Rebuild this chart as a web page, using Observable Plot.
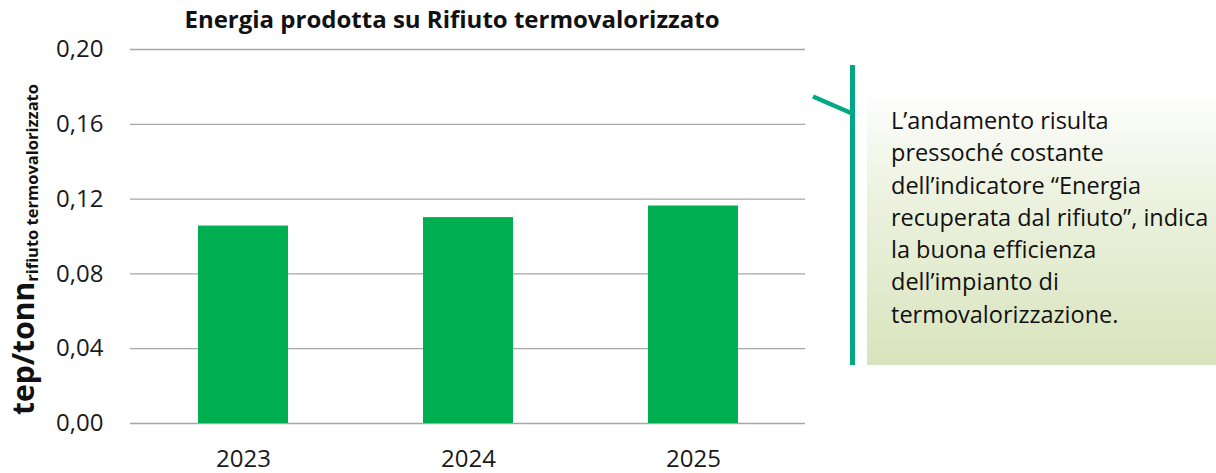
<!DOCTYPE html>
<html>
<head>
<meta charset="utf-8">
<script src="https://cdn.jsdelivr.net/npm/d3@7"></script>
<script src="https://cdn.jsdelivr.net/npm/@observablehq/plot@0.6"></script>
<style>
  html, body { margin: 0; padding: 0; background: #fff; }
  #wrap { position: relative; width: 1216px; height: 473px; overflow: hidden; font-family: "Open Sans", sans-serif; }
  #note {
    position: absolute; left: 867px; top: 88px; width: 349px; height: 277px;
    background: linear-gradient(to bottom, #ffffff 0%, #eef3e2 35%, #d8e4bd 100%);
  }
  #notetext {
    position: absolute; left: 891px; top: 104px; font-size: 23.5px; line-height: 32.3px;
    color: #111; white-space: nowrap; font-family: "Open Sans", sans-serif;
  }
  #callout { position: absolute; left: 0; top: 0; }
</style>
</head>
<body>
<div id="wrap">
  <div id="note"></div>
  <div id="chart"></div>
  <div id="notetext"></div>
  <svg id="callout" width="1216" height="473"></svg>
</div>
<script>
const years = ["2023", "2024", "2025"];
const values = [0.1056, 0.1101, 0.1163];
const yTicks = [0, 0.04, 0.08, 0.12, 0.16, 0.20];
const title = "Energia prodotta su Rifiuto termovalorizzato";
const yLabelMain = "tep/tonn";
const yLabelSub = "rifiuto termovalorizzato";
const noteLines = [
  "L\u2019andamento risulta",
  "pressoché costante",
  "dell\u2019indicatore \u201cEnergia",
  "recuperata dal rifiuto\u201d, indica",
  "la buona efficienza",
  "dell\u2019impianto di",
  "termovalorizzazione."
];

const data = years.map((y, i) => ({year: y, value: values[i]}));
const fmt = v => d3.format(".2f")(v).replace(".", ",");

const chart = Plot.plot({
  width: 1216,
  height: 473,
  marginLeft: 130,
  marginRight: 411,
  marginTop: 49,
  marginBottom: 50,
  style: {fontFamily: "Open Sans, sans-serif", color: "#1a1a1a", background: "transparent", overflow: "visible"},
  x: {domain: years, paddingInner: 0.6, paddingOuter: 0.3, label: null},
  y: {domain: [0, 0.2], label: null},
  marks: [
    Plot.ruleY(yTicks, {stroke: "#a6a6a6", strokeWidth: 1.3}),
    Plot.barY(data, {x: "year", y: "value", fill: "#00b050"}),
    Plot.axisX({tickSize: 0, tickPadding: 26, fontSize: 24, label: null}),
    Plot.axisY({ticks: yTicks, tickFormat: fmt, tickSize: 0, tickPadding: 27, fontSize: 24, label: null}),
    Plot.text([title], {frameAnchor: "top", dx: -16, dy: -29, lineAnchor: "middle", fontSize: 24, fontWeight: "bold", fill: "#111"})
  ]
});
document.getElementById("chart").appendChild(chart);

// y-axis label with subscript
const svg = d3.select(chart);
const lab = svg.append("text")
  .attr("transform", "translate(34,415) rotate(-90)")
  .attr("text-anchor", "start")
  .attr("font-family", "Open Sans, sans-serif")
  .attr("font-weight", "bold")
  .attr("fill", "#111");
lab.append("tspan").attr("font-size", 30).text(yLabelMain);
lab.append("tspan").attr("font-size", 16.5).attr("dy", 4).text(yLabelSub);

// note text
d3.select("#notetext").selectAll("div").data(noteLines).join("div").text(d => d);

// callout lines
const co = d3.select("#callout");
co.append("line").attr("x1", 852.5).attr("y1", 65).attr("x2", 852.5).attr("y2", 365)
  .attr("stroke", "#00a884").attr("stroke-width", 5);
co.append("line").attr("x1", 813).attr("y1", 96.5).attr("x2", 851).attr("y2", 113)
  .attr("stroke", "#00a884").attr("stroke-width", 4.5);
</script>
</body>
</html>
